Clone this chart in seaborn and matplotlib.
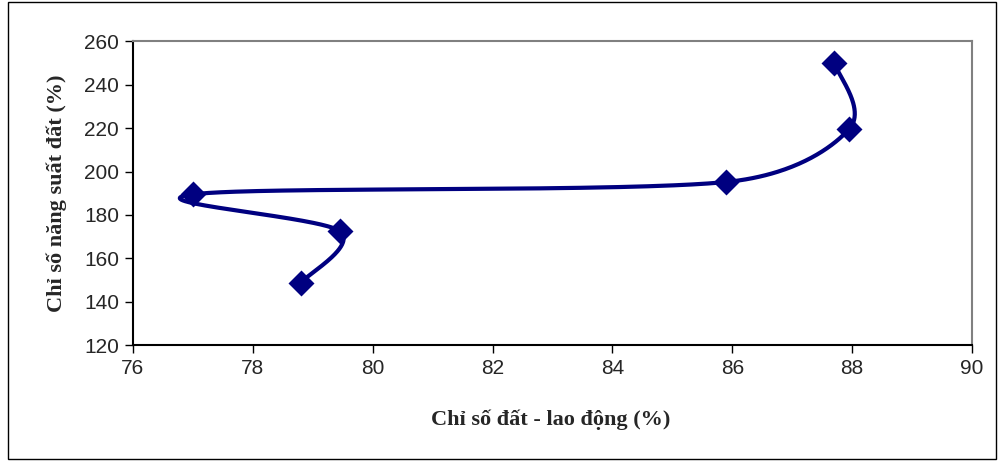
import numpy as np
import pandas as pd
import matplotlib
matplotlib.use("Agg")
import matplotlib.pyplot as plt
import seaborn as sns
from matplotlib.patches import Rectangle

# Land-labour index vs. land productivity index, in chronological order
land_labour_idx = [78.8, 79.45, 77.0, 85.9, 87.95, 87.7]
land_yield_idx = [148.7, 172.5, 189.5, 195.2, 219.6, 250.2]

x_ticks = [76, 78, 80, 82, 84, 86, 88, 90]
y_ticks = [120, 140, 160, 180, 200, 220, 240, 260]
x_label = "Chỉ số đất - lao động (%)"
y_label = "Chỉ số năng suất đất (%)"

XMIN, XMAX = 76, 90
YMIN, YMAX = 120, 260
AX_RECT = [0.133, 0.2516, 0.839, 0.6584]
FIG_W, FIG_H = 10.0, 4.61

sns.set_theme(style="white")
plt.rcParams["font.family"] = ["Liberation Sans", "DejaVu Sans"]

fig = plt.figure(figsize=(FIG_W, FIG_H), dpi=100)
ax = fig.add_axes(AX_RECT)


def smooth_curve(xs, ys, n=80):
    """Bezier smoothing through the points. Control arms follow the neighbour chord
    (1/6 of it), capped at half the segment length; computed in screen inches."""
    w = AX_RECT[2] * FIG_W
    h = AX_RECT[3] * FIG_H
    px = (np.asarray(xs) - XMIN) / (XMAX - XMIN) * w
    py = (np.asarray(ys) - YMIN) / (YMAX - YMIN) * h
    pts = np.column_stack([px, py])
    m = len(pts)

    def arm(prev, nxt, seg_len):
        v = (nxt - prev) / 6.0
        L = np.linalg.norm(v)
        cap = seg_len / 2.0
        if L > cap and L > 0:
            v = v * cap / L
        return v

    out = []
    for i in range(m - 1):
        p0 = pts[i - 1] if i > 0 else pts[i]
        p1 = pts[i]
        p2 = pts[i + 1]
        p3 = pts[i + 2] if i + 2 < m else pts[i + 1]
        seg = np.linalg.norm(p2 - p1)
        c1 = p1 + arm(p0, p2, seg)
        c2 = p2 - arm(p1, p3, seg)
        t = np.linspace(0, 1, n)[:, None]
        b = ((1 - t) ** 3) * p1 + 3 * ((1 - t) ** 2) * t * c1 + 3 * (1 - t) * t ** 2 * c2 + t ** 3 * p2
        out.append(b if i == 0 else b[1:])
    out = np.vstack(out)
    cx = out[:, 0] / w * (XMAX - XMIN) + XMIN
    cy = out[:, 1] / h * (YMAX - YMIN) + YMIN
    return cx, cy


cx, cy = smooth_curve(land_labour_idx, land_yield_idx)
curve = pd.DataFrame({"x": cx, "y": cy})
pts = pd.DataFrame({"x": land_labour_idx, "y": land_yield_idx})

navy = "#000080"
sns.lineplot(data=curve, x="x", y="y", sort=False, estimator=None, color=navy,
             linewidth=3.0, ax=ax, zorder=2)
sns.scatterplot(data=pts, x="x", y="y", marker="D", s=175, color=navy,
                edgecolor=navy, linewidth=0, ax=ax, zorder=3)

ax.set_xlim(XMIN, XMAX)
ax.set_ylim(YMIN, YMAX)
ax.set_xticks(x_ticks)
ax.set_yticks(y_ticks)
ax.set_xticklabels([str(v) for v in x_ticks], fontsize=15)
ax.set_yticklabels([str(v) for v in y_ticks], fontsize=15)
ax.tick_params(axis="both", direction="out", length=6, width=1, color="black",
               bottom=True, left=True, pad=4)

for side in ("top", "right"):
    ax.spines[side].set_color("#808080")
    ax.spines[side].set_linewidth(1.5)
for side in ("left", "bottom"):
    ax.spines[side].set_color("black")
    ax.spines[side].set_linewidth(1.5)

ax.set_xlabel("")
ax.set_ylabel("")
serif = ["Liberation Serif", "DejaVu Serif"]
fig.text(0.551, 0.089, x_label, ha="center", va="center", fontsize=16,
         fontweight="bold", family=serif)
fig.text(0.057, 0.58, y_label, ha="center", va="center", rotation=90,
         fontsize=16, fontweight="bold", family=serif)

# Outer chart frame
fig.patches.append(Rectangle((0.008, 0.005), 0.988, 0.99, transform=fig.transFigure,
                             fill=False, edgecolor="black", linewidth=1.0))

fig.savefig("out.png", dpi=100)
